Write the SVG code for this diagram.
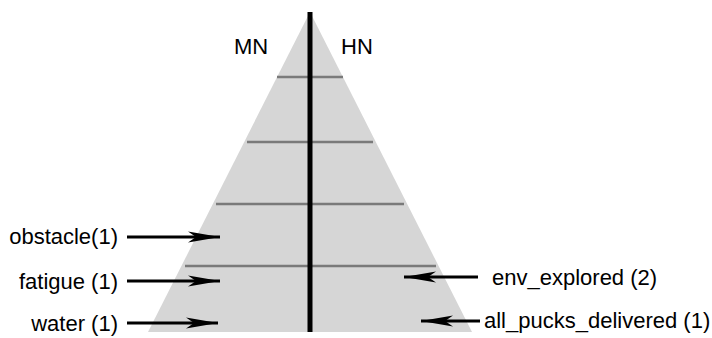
<svg xmlns="http://www.w3.org/2000/svg" width="712" height="338" viewBox="0 0 712 338">
<defs>
<style>
text{font-family:"Liberation Sans",Arial,sans-serif;font-size:22px;fill:#000}
.lvl{stroke:#7a7a7a;stroke-width:2.5}
.arr{stroke:#000;stroke-width:3;fill:none}
</style>
<marker id="ah" viewBox="0 0 32 12" refX="32" refY="6" markerWidth="32" markerHeight="12" markerUnits="userSpaceOnUse" orient="auto">
<path d="M32,6 L0,0.5 L8,6 L0,11.5 Z" fill="#000"/>
</marker>
</defs>
<rect width="712" height="338" fill="#fff"/>
<g id="pyramid">
<polygon points="310,12 148,332 472,332" fill="#d6d6d6"/>
<line class="lvl" x1="277" y1="77" x2="343" y2="77"/>
<line class="lvl" x1="247" y1="142" x2="373" y2="142"/>
<line class="lvl" x1="216" y1="204" x2="404" y2="204"/>
<line class="lvl" x1="185" y1="266" x2="436" y2="266"/>
<line x1="310" y1="12" x2="310" y2="332" stroke="#000" stroke-width="5"/>
</g>
<g id="labels-top">
<text x="234" y="54">MN</text>
<text x="341" y="54">HN</text>
</g>
<g id="connectors">
<line class="arr" x1="127" y1="237" x2="220" y2="237" marker-end="url(#ah)"/>
<line class="arr" x1="127" y1="281" x2="220" y2="281" marker-end="url(#ah)"/>
<line class="arr" x1="127" y1="323" x2="218" y2="323" marker-end="url(#ah)"/>
<line class="arr" x1="478" y1="277" x2="404" y2="277" marker-end="url(#ah)"/>
<line class="arr" x1="480" y1="321" x2="421" y2="321" marker-end="url(#ah)"/>
</g>
<g id="n-obstacle"><text x="118" y="244" text-anchor="end">obstacle(1)</text></g>
<g id="n-fatigue"><text x="118" y="289" text-anchor="end">fatigue (1)</text></g>
<g id="n-water"><text x="118" y="331" text-anchor="end">water (1)</text></g>
<g id="n-env"><text x="492" y="285">env_explored (2)</text></g>
<g id="n-pucks"><text x="484" y="328">all_pucks_delivered (1)</text></g>
</svg>
